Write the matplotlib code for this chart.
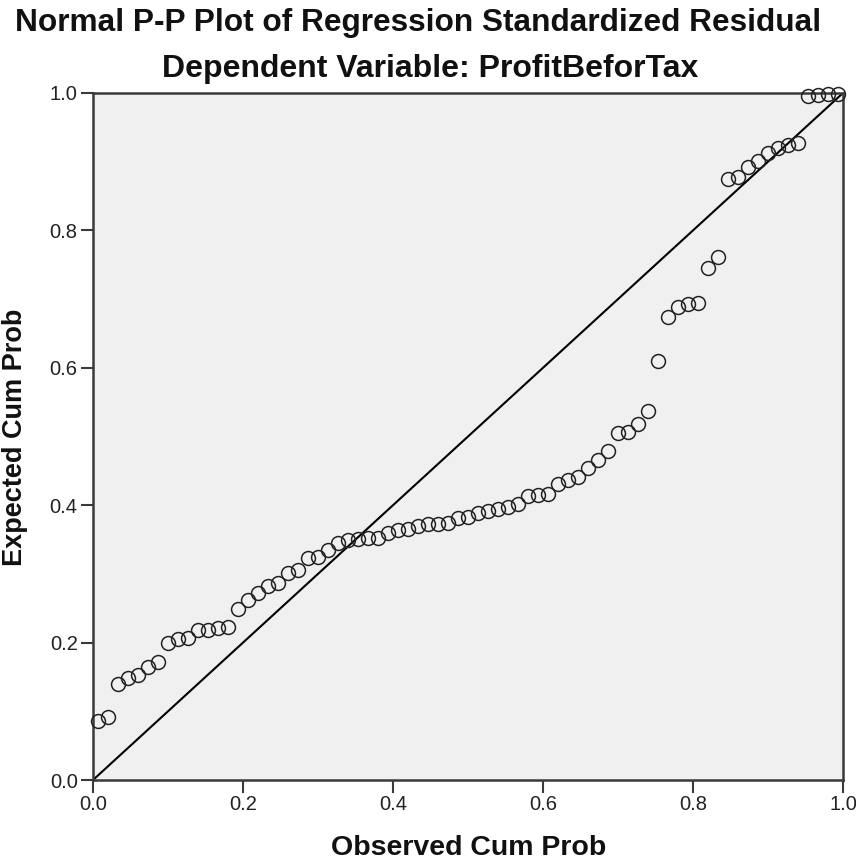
import matplotlib
matplotlib.use("Agg")
import matplotlib.pyplot as plt

observed = [0.007, 0.020, 0.033, 0.047, 0.060, 0.073, 0.087, 0.100, 0.113, 0.127,
            0.140, 0.153, 0.167, 0.180, 0.193, 0.207, 0.220, 0.233, 0.247, 0.260,
            0.273, 0.287, 0.300, 0.313, 0.327, 0.340, 0.353, 0.367, 0.380, 0.393,
            0.407, 0.420, 0.433, 0.447, 0.460, 0.473, 0.487, 0.500, 0.513, 0.527,
            0.540, 0.553, 0.567, 0.580, 0.593, 0.607, 0.620, 0.633, 0.647, 0.660,
            0.673, 0.687, 0.700, 0.713, 0.727, 0.740, 0.753, 0.767, 0.780, 0.793,
            0.807, 0.820, 0.833, 0.847, 0.860, 0.873, 0.887, 0.900, 0.913, 0.927,
            0.940, 0.953, 0.967, 0.980, 0.993]
expected = [0.086, 0.092, 0.140, 0.148, 0.153, 0.164, 0.172, 0.199, 0.205, 0.207,
            0.218, 0.219, 0.221, 0.223, 0.249, 0.262, 0.272, 0.282, 0.287, 0.301,
            0.306, 0.323, 0.325, 0.335, 0.345, 0.349, 0.351, 0.352, 0.352, 0.360,
            0.364, 0.366, 0.370, 0.372, 0.373, 0.374, 0.381, 0.383, 0.389, 0.391,
            0.395, 0.397, 0.402, 0.413, 0.415, 0.416, 0.431, 0.436, 0.441, 0.454,
            0.466, 0.479, 0.505, 0.506, 0.518, 0.537, 0.610, 0.674, 0.689, 0.693,
            0.694, 0.745, 0.761, 0.875, 0.878, 0.892, 0.901, 0.912, 0.920, 0.924,
            0.927, 0.996, 0.997, 0.998, 0.999]
ticks = [0.0, 0.2, 0.4, 0.6, 0.8, 1.0]
tick_labels = ["0.0", "0.2", "0.4", "0.6", "0.8", "1.0"]

FAM = ["Liberation Sans", "DejaVu Sans"]

fig = plt.figure(figsize=(8.56, 8.60), dpi=100)
ax = fig.add_axes([93/856, 1-780/860, 750/856, 687/860])
ax.set_facecolor("#f0f0f0")
ax.plot([0, 1], [0, 1], color="black", lw=1.5, zorder=2)
ax.plot(observed, expected, linestyle="none", marker="o", markersize=10,
        markerfacecolor="none", markeredgecolor="#222222", markeredgewidth=1.1,
        zorder=3, clip_on=False)
ax.set_xlim(0, 1)
ax.set_ylim(0, 1)
ax.set_xticks(ticks)
ax.set_xticklabels(tick_labels)
ax.set_yticks(ticks)
ax.set_yticklabels(tick_labels)
for sp in ax.spines.values():
    sp.set_color("#3a3a3a")
    sp.set_linewidth(1.8)
ax.tick_params(direction="out", length=9, width=1.5, color="#3a3a3a",
               labelsize=14.5, labelcolor="#222222", pad=2)
for lab in ax.get_xticklabels() + ax.get_yticklabels():
    lab.set_family(FAM)

fig.text(418/856, 1 - 23/860, "Normal P-P Plot of Regression Standardized Residual",
         ha="center", va="center", fontsize=22.8, fontweight="bold",
         family=FAM, color="#111111")
fig.text(430/856, 1 - 69/860, "Dependent Variable: ProfitBeforTax",
         ha="center", va="center", fontsize=23, fontweight="bold",
         family=FAM, color="#111111")
fig.text(469/856, 1 - 848/860, "Observed Cum Prob", ha="center", va="center",
         fontsize=20.5, fontweight="bold", family=FAM, color="#111111")
fig.text(15/856, 1 - 437/860, "Expected Cum Prob", ha="center", va="center",
         rotation=90, fontsize=19.5, fontweight="bold", family=FAM, color="#111111")

fig.savefig("out.png", dpi=100)
